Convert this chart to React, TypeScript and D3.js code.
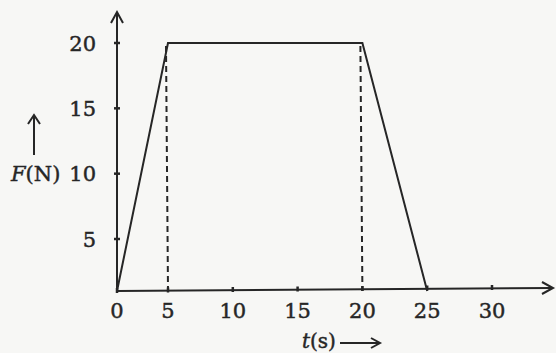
import React from "react";
import * as d3 from "d3";

const times = [0, 5, 20, 25];
const forces = [0, 20, 20, 0];
const xTicks = [0, 5, 10, 15, 20, 25, 30];
const yTicks = [5, 10, 15, 20];
const dashedAt = [5, 20];

const W = 556;
const H = 353;

export default function App() {
  // scanned figure is slightly uneven: piecewise-linear scales follow it
  const x = d3.scaleLinear().domain([0, 5, 30]).range([117, 168, 492]);
  const y = d3.scaleLinear().domain([0, 5, 20]).range([291, 239, 43]);
  const pts = times.map((t, i) => [t, forces[i]] as [number, number]);
  const line = d3
    .line<[number, number]>()
    .x((d) => x(d[0]))
    .y((d) => y(d[1]));
  const ink = "#262626";
  const font = "'DejaVu Serif', serif";
  const x0 = x(0);
  const y0 = y(0);
  const textStyle = { fill: ink, stroke: ink, strokeWidth: 0.45 } as const;
  return (
    <svg
      width={W}
      height={H}
      style={{ position: "absolute", left: 0, top: 0 }}
      fontFamily={font}
    >
      <rect width={W} height={H} fill="#f7f7f5" />
      {/* axes */}
      <line x1={x0} y1={y0} x2={x0} y2={13} stroke={ink} strokeWidth={2} />
      <path d={`M${x0 - 6},${23} L${x0},${12} L${x0 + 6},${23}`} fill="none" stroke={ink} strokeWidth={2} />
      <line x1={x0} y1={y0} x2={552} y2={y0 - 3} stroke={ink} strokeWidth={2} />
      <path d={`M${542},${y0 - 9} L${553},${y0 - 3} L${542},${y0 + 3}`} fill="none" stroke={ink} strokeWidth={2} />
      {/* ticks */}
      {xTicks.map((t) => (
        <g key={"xt" + t}>
          <line x1={x(t)} x2={x(t)} y1={y0 - 3 - (t / 30) * 3} y2={y0 + 2 - (t / 30) * 3} stroke={ink} strokeWidth={2.5} />
          <text x={x(t)} y={318} fontSize={21} textAnchor="middle" {...textStyle}>
            {t}
          </text>
        </g>
      ))}
      {yTicks.map((v) => (
        <g key={"yt" + v}>
          <line x1={x0 - 3} x2={x0 + 3} y1={y(v)} y2={y(v)} stroke={ink} strokeWidth={2.5} />
          <text x={96} y={y(v) + 7.5} fontSize={21} textAnchor="end" {...textStyle}>
            {v}
          </text>
        </g>
      ))}
      {/* dashed guides */}
      {dashedAt.map((t) => (
        <line
          key={"d" + t}
          x1={x(t) - 2}
          x2={x(t)}
          y1={y(20) + 3}
          y2={y0}
          stroke={ink}
          strokeWidth={2}
          strokeDasharray="6,4"
        />
      ))}
      {/* data */}
      <path d={line(pts) || ""} fill="none" stroke={ink} strokeWidth={2} />
      {/* axis labels */}
      <text x={11} y={181} fontSize={21} {...textStyle}>
        <tspan fontStyle="italic">F</tspan>(N)
      </text>
      <line x1={34} y1={155} x2={34} y2={116} stroke={ink} strokeWidth={2} />
      <path d="M28,124 L34,115 L40,124" fill="none" stroke={ink} strokeWidth={2} />
      <text x={302} y={348} fontSize={20} {...textStyle}>
        <tspan fontStyle="italic">t</tspan>(s)
      </text>
      <line x1={340} y1={343} x2={379} y2={343} stroke={ink} strokeWidth={2} />
      <path d="M371,338 L380,343 L371,348" fill="none" stroke={ink} strokeWidth={2} />
    </svg>
  );
}
